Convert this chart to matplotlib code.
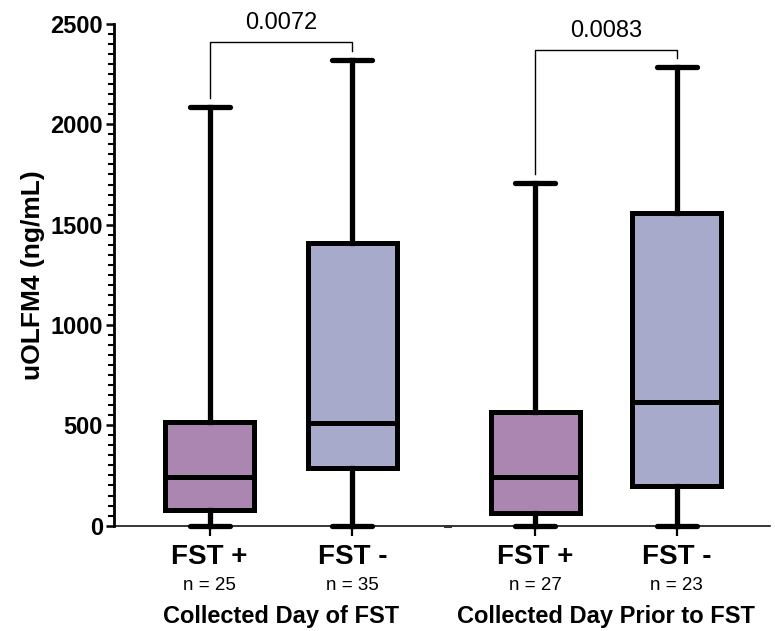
import matplotlib
matplotlib.use("Agg")
import matplotlib.pyplot as plt
from matplotlib.ticker import MultipleLocator
from matplotlib.transforms import blended_transform_factory

plt.rcParams['font.family'] = ['Liberation Sans', 'DejaVu Sans']

# Box summaries (ng/mL)
groups = ["FST +", "FST -", "FST +", "FST -"]
n_labels = ["n = 25", "n = 35", "n = 27", "n = 23"]
whisker_low = [0, 0, 0, 0]
q1 = [78, 288, 63, 197]
median = [244, 512, 243, 617]
q3 = [518, 1410, 567, 1560]
whisker_high = [2087, 2321, 1707, 2288]
positions = [1, 2, 3.28, 4.27]
colors = ["#ab86b0", "#a8aacc"] * 2

group_titles = ["Collected Day of FST", "Collected Day Prior to FST"]
p_values = ["0.0072", "0.0083"]
bracket_tops = [2408, 2371]

fig = plt.figure(figsize=(7.75, 6.31), dpi=100)
ax = fig.add_axes([0.147, 0.167, 0.846, 0.795])

stats = []
for i in range(len(groups)):
    stats.append({"whislo": whisker_low[i], "q1": q1[i], "med": median[i],
                  "q3": q3[i], "whishi": whisker_high[i], "fliers": []})

bp = ax.bxp(stats, positions=positions, widths=0.62, capwidths=0.28,
            patch_artist=True, showfliers=False,
            boxprops=dict(linewidth=3.6, edgecolor="black"),
            medianprops=dict(linewidth=3.6, color="black"),
            whiskerprops=dict(linewidth=3.8, color="black"),
            capprops=dict(linewidth=3.8, color="black", solid_capstyle="round"))
for patch, c in zip(bp["boxes"], colors):
    patch.set_facecolor(c)
for art in bp["caps"] + bp["whiskers"]:
    art.set_clip_on(False)

xmin, xmax = 0.33, 4.92
ax.set_xlim(xmin, xmax)
ax.set_ylim(0, 2500)

# axes styling
for side in ["top", "right", "bottom"]:
    ax.spines[side].set_visible(False)
ax.spines["left"].set_linewidth(2.0)
ax.spines["left"].set_bounds(0, 2500)

# x axis line with the small join mark between the two groups
ax.plot([xmin, xmax], [0, 0], color="black", lw=1.1, clip_on=False, zorder=1)
ax.plot([2.645, 2.68], [0, 0], color="#333333", lw=2.2, clip_on=False, zorder=1)

ax.yaxis.set_major_locator(MultipleLocator(500))
ax.yaxis.set_minor_locator(MultipleLocator(50))
ax.tick_params(axis="y", which="major", length=6, width=1.8, labelsize=17, pad=2)
ax.tick_params(axis="y", which="minor", length=4, width=1.5)
for lab in ax.get_yticklabels():
    lab.set_fontweight("bold")

ax.set_xticks(positions)
ax.set_xticklabels(groups, fontsize=20, fontweight="bold")
ax.tick_params(axis="x", length=7, width=1.6, pad=6)

ax.set_ylabel("uOLFM4 (ng/mL)", fontsize=19, fontweight="bold", labelpad=4)

trans = blended_transform_factory(ax.transData, fig.transFigure)
for pos, n in zip(positions, n_labels):
    ax.text(pos, 1 - 586 / 631, n, transform=trans, ha="center", va="center", fontsize=13.5)
for k, title in enumerate(group_titles):
    mid = (positions[2 * k] + positions[2 * k + 1]) / 2
    ax.text(mid, 1 - 617 / 631, title, transform=trans, ha="center", va="center",
            fontsize=17, fontweight="bold")

# significance brackets
for k in range(2):
    a, b = 2 * k, 2 * k + 1
    xa, xb = positions[a], positions[b]
    top = bracket_tops[k]
    ax.plot([xa, xa, xb, xb], [whisker_high[a] + 43, top, top, whisker_high[b] + 43],
            color="black", lw=1.0, clip_on=False)
    ax.text((xa + xb) / 2, top + 40, p_values[k], ha="center", va="bottom",
            fontsize=17, clip_on=False)

fig.savefig("out.png", dpi=100)
